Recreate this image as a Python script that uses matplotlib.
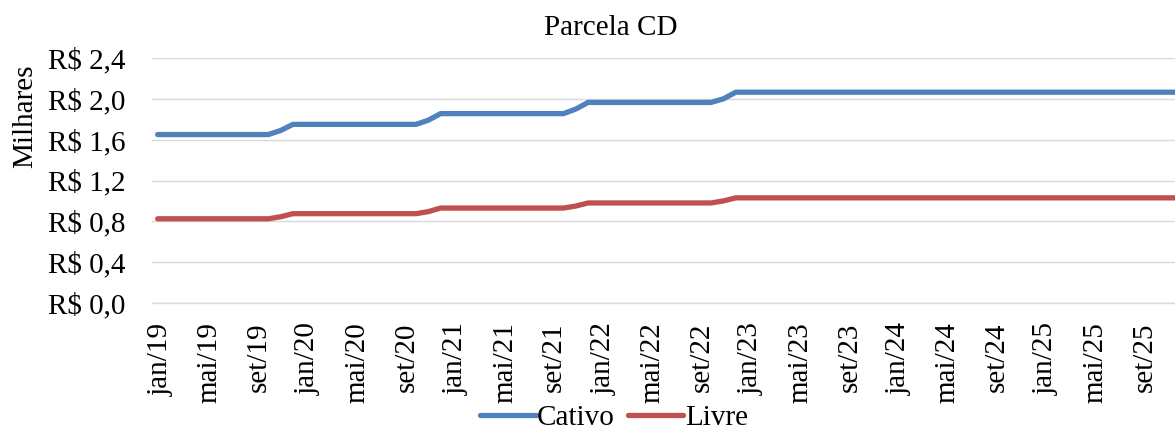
import matplotlib.pyplot as plt
import matplotlib.transforms as mtransforms
import numpy as np

plt.rcParams['font.family'] = ['Liberation Serif', 'DejaVu Serif']
plt.rcParams['font.size'] = 21

meses = ['jan', 'fev', 'mar', 'abr', 'mai', 'jun', 'jul', 'ago', 'set', 'out', 'nov', 'dez']
anos = ['19', '20', '21', '22', '23', '24', '25']
rotulos = [f'{m}/{a}' for a in anos for m in meses]

# valores mensais em milhares de R$, um ano por linha
cativo = [
    1.65, 1.65, 1.65, 1.65, 1.65, 1.65, 1.65, 1.65, 1.65, 1.65, 1.69, 1.75,
    1.75, 1.75, 1.75, 1.75, 1.75, 1.75, 1.75, 1.75, 1.75, 1.75, 1.79, 1.855,
    1.855, 1.855, 1.855, 1.855, 1.855, 1.855, 1.855, 1.855, 1.855, 1.855, 1.90, 1.965,
    1.965, 1.965, 1.965, 1.965, 1.965, 1.965, 1.965, 1.965, 1.965, 1.965, 2.00, 2.065,
    2.065, 2.065, 2.065, 2.065, 2.065, 2.065, 2.065, 2.065, 2.065, 2.065, 2.065, 2.065,
    2.065, 2.065, 2.065, 2.065, 2.065, 2.065, 2.065, 2.065, 2.065, 2.065, 2.065, 2.065,
    2.065, 2.065, 2.065, 2.065, 2.065, 2.065, 2.065, 2.065, 2.065, 2.065, 2.065, 2.065,
]
livre = [
    0.825, 0.825, 0.825, 0.825, 0.825, 0.825, 0.825, 0.825, 0.825, 0.825, 0.845, 0.875,
    0.875, 0.875, 0.875, 0.875, 0.875, 0.875, 0.875, 0.875, 0.875, 0.875, 0.895, 0.93,
    0.93, 0.93, 0.93, 0.93, 0.93, 0.93, 0.93, 0.93, 0.93, 0.93, 0.95, 0.98,
    0.98, 0.98, 0.98, 0.98, 0.98, 0.98, 0.98, 0.98, 0.98, 0.98, 1.00, 1.03,
    1.03, 1.03, 1.03, 1.03, 1.03, 1.03, 1.03, 1.03, 1.03, 1.03, 1.03, 1.03,
    1.03, 1.03, 1.03, 1.03, 1.03, 1.03, 1.03, 1.03, 1.03, 1.03, 1.03, 1.03,
    1.03, 1.03, 1.03, 1.03, 1.03, 1.03, 1.03, 1.03, 1.03, 1.03, 1.03, 1.03,
]
yticks = [0.0, 0.4, 0.8, 1.2, 1.6, 2.0, 2.4]

W, H = 1175, 430
fig = plt.figure(figsize=(W / 100, H / 100), dpi=100)
# a area de plotagem passa da borda direita da figura
ax = fig.add_axes([151.5 / W, 1 - 303 / H, (84 * 12.3) / W, 245 / H])

x = np.arange(len(cativo))
l1, = ax.plot(x, cativo, color='#4F81BD', lw=3.8, solid_capstyle='round', solid_joinstyle='round')
l2, = ax.plot(x, livre, color='#C0504D', lw=3.8, solid_capstyle='round', solid_joinstyle='round')

ax.set_xlim(-0.5, len(cativo) - 0.5)
ax.set_ylim(0, 2.4)
ax.set_yticks(yticks)
ax.set_yticklabels([f'R$ {v:.1f}'.replace('.', ',') for v in yticks])
ax.set_xticks(x[::4])
ax.set_xticklabels(rotulos[::4], rotation=90)
ax.tick_params(axis='y', length=0, pad=19)
ax.tick_params(axis='x', length=0, pad=14)

# rotulos do eixo x um pouco para a direita
desloc = mtransforms.ScaledTranslation(3 / 100, 0, fig.dpi_scale_trans)
for lbl in ax.get_xticklabels():
    lbl.set_transform(lbl.get_transform() + desloc)

ax.grid(axis='y', color='#D9D9D9', lw=1.0)
ax.set_axisbelow(True)
for s in ['top', 'right', 'left']:
    ax.spines[s].set_visible(False)
ax.spines['bottom'].set_color('#D9D9D9')
ax.spines['bottom'].set_linewidth(1.0)

fig.text(611 / W, 1 - 28 / H, 'Parcela CD', ha='center', va='center')
fig.text(25 / W, 1 - 116 / H, 'Milhares', rotation=90, ha='center', va='center')

fig.legend([l1, l2], ['Cativo', 'Livre'], loc='center', bbox_to_anchor=(614 / W, 1 - 418 / H),
           ncol=2, frameon=False, handlelength=1.9, handletextpad=0.05, columnspacing=0.45,
           borderpad=0, borderaxespad=0)

fig.savefig('out.png', dpi=100)
